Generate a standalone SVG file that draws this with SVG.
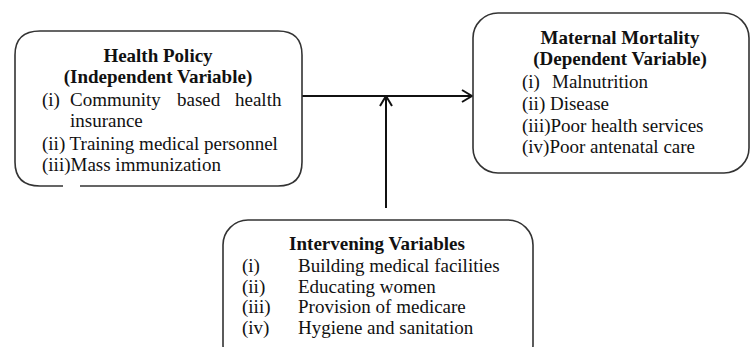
<svg xmlns="http://www.w3.org/2000/svg" width="752" height="347" viewBox="0 0 752 347">
<style>
.box{fill:#fff;stroke:#333;stroke-width:1.6}
.t{font-family:"Liberation Serif","Times New Roman",serif;font-size:19px;fill:#111}
.b{font-weight:bold;text-anchor:middle}
.ln{stroke:#111;stroke-width:2;fill:none}
</style>
<defs>
<marker id="ah" viewBox="0 0 12 14" refX="11" refY="7" markerWidth="12" markerHeight="14" markerUnits="userSpaceOnUse" orient="auto">
<path d="M1,1 L11,7 L1,13" fill="none" stroke="#111" stroke-width="2"/>
</marker>
</defs>
<g id="connectors">
<line class="ln" x1="302" y1="96" x2="472" y2="96" marker-end="url(#ah)"/>
<line class="ln" x1="386" y1="208" x2="386" y2="96" marker-end="url(#ah)"/>
</g>
<g id="health-policy">
<path class="box" d="M80,186 L278,186 Q302,186 302,162 L302,55 Q302,31 278,31 L40,31 Q15,31 15,55 L15,162 Q15,186 40,186 L63,186"/>
<text class="t b" x="158" y="62">Health Policy</text>
<text class="t b" x="158" y="83">(Independent Variable)</text>
<text class="t" y="106"><tspan x="42">(i)</tspan><tspan x="70">Community</tspan><tspan x="177">based</tspan><tspan x="235">health</tspan></text>
<text class="t" x="70" y="127">insurance</text>
<text class="t" x="42" y="150">(ii) Training medical personnel</text>
<text class="t" x="42" y="171">(iii)Mass immunization</text>
</g>
<g id="maternal-mortality">
<rect class="box" x="473" y="13" width="276" height="160" rx="25" ry="25"/>
<text class="t b" x="620" y="44">Maternal Mortality</text>
<text class="t b" x="620" y="65">(Dependent Variable)</text>
<text class="t" y="88"><tspan x="522">(i)</tspan><tspan x="552">Malnutrition</tspan></text>
<text class="t" x="522" y="110">(ii) Disease</text>
<text class="t" x="522" y="132">(iii)Poor health services</text>
<text class="t" x="522" y="153">(iv)Poor antenatal care</text>
</g>
<g id="intervening">
<rect class="box" x="223" y="220" width="310" height="150" rx="25" ry="25"/>
<text class="t b" x="377" y="250">Intervening Variables</text>
<text class="t" y="272"><tspan x="242">(i)</tspan><tspan x="298">Building medical facilities</tspan></text>
<text class="t" y="293"><tspan x="242">(ii)</tspan><tspan x="298">Educating women</tspan></text>
<text class="t" y="313"><tspan x="242">(iii)</tspan><tspan x="298">Provision of medicare</tspan></text>
<text class="t" y="334"><tspan x="242">(iv)</tspan><tspan x="298">Hygiene and sanitation</tspan></text>
</g>
</svg>
